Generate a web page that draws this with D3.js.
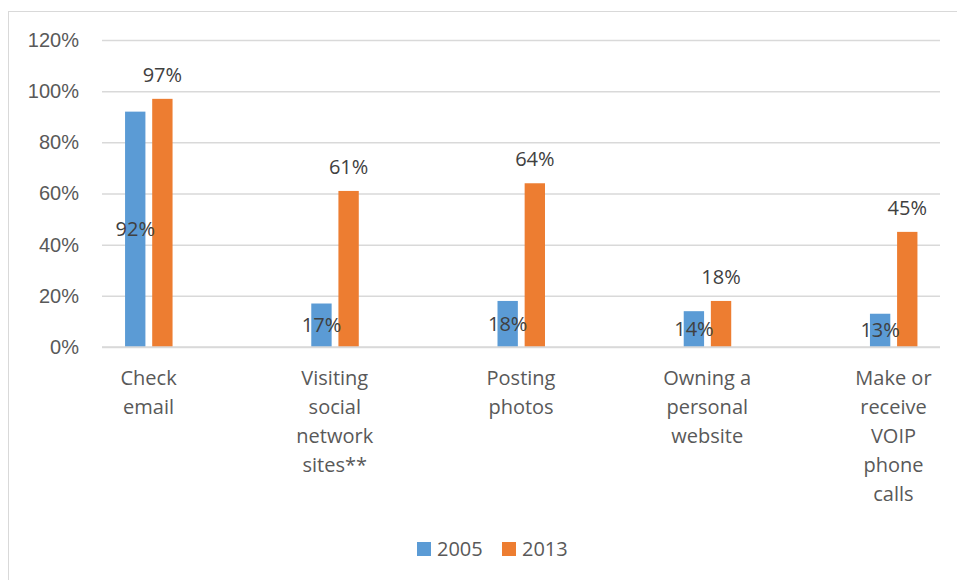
<!DOCTYPE html>
<html>
<head>
<meta charset="utf-8">
<script src="https://cdn.jsdelivr.net/npm/d3@7"></script>
<style>
  html, body { margin: 0; padding: 0; background: #fff; }
  svg { display: block; font-family: "Open Sans", "Noto Sans", sans-serif; }
</style>
</head>
<body>
<div id="chart"></div>
<script>
const categories = ["Check email", "Visiting social network sites**", "Posting photos", "Owning a personal website", "Make or receive VOIP phone calls"];
const seriesNames = ["2005", "2013"];
const values2005 = [92, 17, 18, 14, 13];
const values2013 = [97, 61, 64, 18, 45];
const yTicks = [0, 20, 40, 60, 80, 100, 120];
const colors = ["#5b9bd5", "#ed7d31"];

const W = 957, H = 580;
const margin = { top: 40, right: 17, bottom: 233, left: 102 };
const fontSize = "20px";

const svg = d3.select("#chart").append("svg")
  .attr("width", W).attr("height", H);

// chart frame
svg.append("rect")
  .attr("x", 8.5).attr("y", 11.5)
  .attr("width", 960).attr("height", 600)
  .attr("fill", "none").attr("stroke", "#d9d9d9").attr("stroke-width", 1);

const x = d3.scalePoint()
  .domain(categories)
  .range([margin.left, W - margin.right])
  .padding(0.25);

const xs = d3.scaleBand()
  .domain(seriesNames)
  .range([-23.5, 24])
  .paddingInner(0.25);

const y = d3.scaleLinear()
  .domain([0, 120])
  .range([H - margin.bottom, margin.top]);

// gridlines + y labels
const yAxis = svg.append("g")
  .attr("transform", `translate(${margin.left},0)`)
  .call(d3.axisLeft(y).tickValues(yTicks).tickSize(-(W - margin.right - margin.left)).tickPadding(23).tickFormat(d => d + "%"));
yAxis.select(".domain").remove();
yAxis.selectAll(".tick line").attr("stroke", "#d9d9d9").attr("stroke-width", 1.5);
yAxis.selectAll(".tick text")
  .attr("fill", "#595959").attr("font-size", fontSize);

const data = categories.map((c, i) => ({ cat: c, vals: [values2005[i], values2013[i]] }));

const groups = svg.selectAll(".cat")
  .data(data).enter().append("g")
  .attr("transform", d => `translate(${x(d.cat)},0)`);

groups.selectAll("rect")
  .data(d => d.vals.map((v, j) => ({ v, s: seriesNames[j], j })))
  .enter().append("rect")
  .attr("x", d => xs(d.s))
  .attr("width", xs.bandwidth())
  .attr("y", d => y(d.v))
  .attr("height", d => y(0) - y(d.v))
  .attr("fill", d => colors[d.j]);

// data labels: 2005 centred in the bar, 2013 above the bar
groups.selectAll("text.lbl")
  .data(d => d.vals.map((v, j) => ({ v, s: seriesNames[j], j })))
  .enter().append("text")
  .attr("class", "lbl")
  .attr("x", d => xs(d.s) + xs.bandwidth() / 2)
  .attr("y", d => d.j === 0 ? (y(d.v) + y(0)) / 2 : y(d.v) - 17)
  .attr("dy", d => d.j === 0 ? "0.35em" : 0)
  .attr("text-anchor", "middle")
  .attr("fill", "#404040")
  .attr("font-size", fontSize)
  .text(d => d.v + "%");

// x axis baseline
svg.append("line")
  .attr("x1", margin.left).attr("x2", W - margin.right)
  .attr("y1", y(0)).attr("y2", y(0))
  .attr("stroke", "#d9d9d9").attr("stroke-width", 1.5);

// wrapped category labels
const measure = svg.append("text").attr("font-size", fontSize).attr("visibility", "hidden");
function wrap(str, maxW) {
  const words = str.split(" ");
  const lines = [];
  let line = "";
  words.forEach(w => {
    const test = line ? line + " " + w : w;
    measure.text(test);
    if (line && measure.node().getComputedTextLength() > maxW) {
      lines.push(line);
      line = w;
    } else {
      line = test;
    }
  });
  lines.push(line);
  return lines;
}

groups.append("text")
  .attr("text-anchor", "middle")
  .attr("fill", "#595959")
  .attr("font-size", fontSize)
  .selectAll("tspan")
  .data(d => wrap(d.cat, 100))
  .enter().append("tspan")
  .attr("x", 0)
  .attr("y", (d, i) => y(0) + 38 + i * 29)
  .text(d => d);
measure.remove();

// legend
const legend = svg.append("g").attr("transform", "translate(417,542)");
seriesNames.forEach((s, i) => {
  const g = legend.append("g").attr("transform", `translate(${i * 85},0)`);
  g.append("rect").attr("width", 14).attr("height", 14).attr("fill", colors[i]);
  g.append("text").attr("x", 20).attr("y", 7).attr("dy", "0.35em")
    .attr("fill", "#595959").attr("font-size", fontSize).text(s);
});
</script>
</body>
</html>
